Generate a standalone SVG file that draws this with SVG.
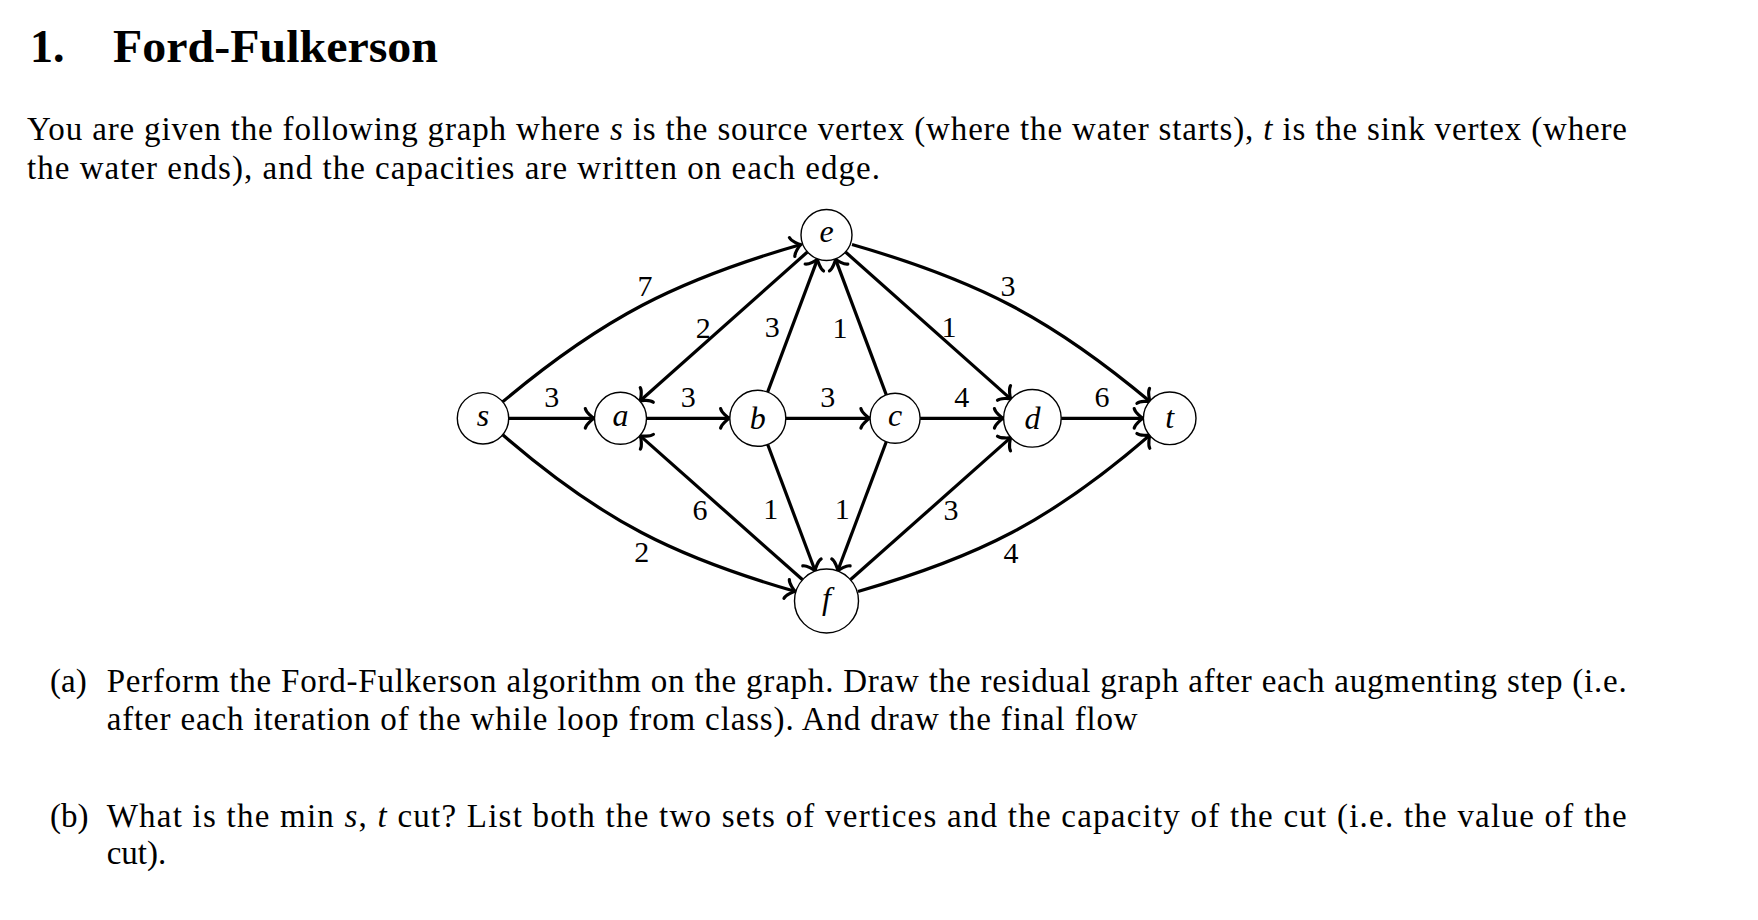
<svg xmlns="http://www.w3.org/2000/svg" width="1758" height="920" viewBox="0 0 1758 920">
<defs>
<style>
.title{font-family:"Liberation Serif",serif;font-weight:bold;font-size:46px;fill:#000}
.body{font-family:"Liberation Serif",serif;font-size:33px;fill:#000}
.m{font-style:italic}
.edge{fill:none;stroke:#000;stroke-width:3.2;marker-end:url(#to)}
.node circle{fill:#fff;stroke:#000;stroke-width:1.4}
.node text{font-family:"Liberation Serif",serif;font-style:italic;font-size:32px;text-anchor:middle;fill:#000}
.lbl{font-family:"Liberation Serif",serif;font-size:30px;text-anchor:middle;fill:#000}
</style>
<marker id="to" markerUnits="userSpaceOnUse" markerWidth="20" markerHeight="24" viewBox="-8 -11 11 22" refX="1.69" refY="0" orient="auto" overflow="visible">
<path d="M -6.75,-9 C -6.19,-5.63 0,-0.56 1.69,0 C 0,0.56 -6.19,5.63 -6.75,9" fill="none" stroke="#000" stroke-width="2.9" stroke-linecap="round" stroke-linejoin="round"/>
</marker>
</defs>
<rect width="1758" height="920" fill="#fff"/>

<g id="heading">
<text class="title" x="30" y="62">1.</text>
<text class="title" x="113" y="62" textLength="325" lengthAdjust="spacingAndGlyphs">Ford-Fulkerson</text>
</g>

<g id="intro">
<text class="body" x="27" y="140" textLength="1600" lengthAdjust="spacing">You are given the following graph where <tspan class="m">s</tspan> is the source vertex (where the water starts), <tspan class="m">t</tspan> is the sink vertex (where</text>
<text class="body" x="27" y="178.5" textLength="853" lengthAdjust="spacing">the water ends), and the capacities are written on each edge.</text>
</g>

<g id="connectors">
<path class="edge" d="M 502.7,401.8 C 602.3,318.2 676,280.4 801,244.5"/>
<path class="edge" d="M 502.7,434.8 C 602.3,521 675.4,557 795.5,591.5"/>
<path class="edge" d="M 852,244.5 C 977,280.4 1050.7,318.2 1150.3,401.8"/>
<path class="edge" d="M 858,591.5 C 978,557 1051,521 1150.3,434.8"/>
<path class="edge" d="M 508.7,418.3 L 594.5,418.3"/>
<path class="edge" d="M 646.5,418.3 L 729.8,418.3"/>
<path class="edge" d="M 785.8,418.3 L 870.1,418.3"/>
<path class="edge" d="M 920.1,418.3 L 1003.6,418.3"/>
<path class="edge" d="M 1061.2,418.3 L 1143.4,418.3"/>
<path class="edge" d="M 807.4,252 L 639.9,401"/>
<path class="edge" d="M 802.6,579.8 L 640,435.6"/>
<path class="edge" d="M 767.6,392.1 L 817.6,258.9"/>
<path class="edge" d="M 886.3,394.9 L 835.4,258.9"/>
<path class="edge" d="M 767.7,444.5 L 815.2,571"/>
<path class="edge" d="M 886.3,441.7 L 837.7,571"/>
<path class="edge" d="M 845.5,252 L 1010.9,399.1"/>
<path class="edge" d="M 850.4,579.8 L 1010.9,437.4"/>
</g>

<g id="edge-labels">
<text class="lbl" x="645" y="296">7</text>
<text class="lbl" x="703.3" y="338">2</text>
<text class="lbl" x="772.3" y="337">3</text>
<text class="lbl" x="840" y="338">1</text>
<text class="lbl" x="551.7" y="407">3</text>
<text class="lbl" x="688.3" y="407">3</text>
<text class="lbl" x="827.7" y="407">3</text>
<text class="lbl" x="1008" y="296">3</text>
<text class="lbl" x="949" y="337">1</text>
<text class="lbl" x="961.7" y="407">4</text>
<text class="lbl" x="1102" y="407">6</text>
<text class="lbl" x="700" y="520">6</text>
<text class="lbl" x="770.7" y="519">1</text>
<text class="lbl" x="842.3" y="519">1</text>
<text class="lbl" x="641.7" y="562">2</text>
<text class="lbl" x="951" y="520">3</text>
<text class="lbl" x="1011" y="563">4</text>
</g>

<g id="node-s" class="node"><circle cx="483" cy="418.3" r="25.7"/><text x="483" y="425.5">s</text></g>
<g id="node-a" class="node"><circle cx="620.5" cy="418.3" r="26"/><text x="620.5" y="425.5">a</text></g>
<g id="node-b" class="node"><circle cx="757.8" cy="418.3" r="28"/><text x="757.8" y="428.5">b</text></g>
<g id="node-c" class="node"><circle cx="895.1" cy="418.3" r="25"/><text x="895.1" y="425.5">c</text></g>
<g id="node-d" class="node"><circle cx="1032.4" cy="418.3" r="28.8"/><text x="1032.4" y="428.5">d</text></g>
<g id="node-t" class="node"><circle cx="1169.7" cy="418.3" r="26.3"/><text x="1169.7" y="427.5">t</text></g>
<g id="node-e" class="node"><circle cx="826.5" cy="235" r="25.5"/><text x="826.5" y="242">e</text></g>
<g id="node-f" class="node"><circle cx="826.5" cy="601" r="32"/><text x="826.5" y="609">f</text></g>

<g id="questions">
<text class="body" x="50" y="692">(a)</text>
<text class="body" x="106.7" y="692" textLength="1520" lengthAdjust="spacing">Perform the Ford-Fulkerson algorithm on the graph. Draw the residual graph after each augmenting step (i.e.</text>
<text class="body" x="106.7" y="730" textLength="1031" lengthAdjust="spacing">after each iteration of the while loop from class). And draw the final flow</text>
<text class="body" x="50" y="827">(b)</text>
<text class="body" x="106.7" y="827" textLength="1520" lengthAdjust="spacing">What is the min <tspan class="m">s</tspan>, <tspan class="m">t</tspan> cut? List both the two sets of vertices and the capacity of the cut (i.e. the value of the</text>
<text class="body" x="106.7" y="864">cut).</text>
</g>
</svg>
